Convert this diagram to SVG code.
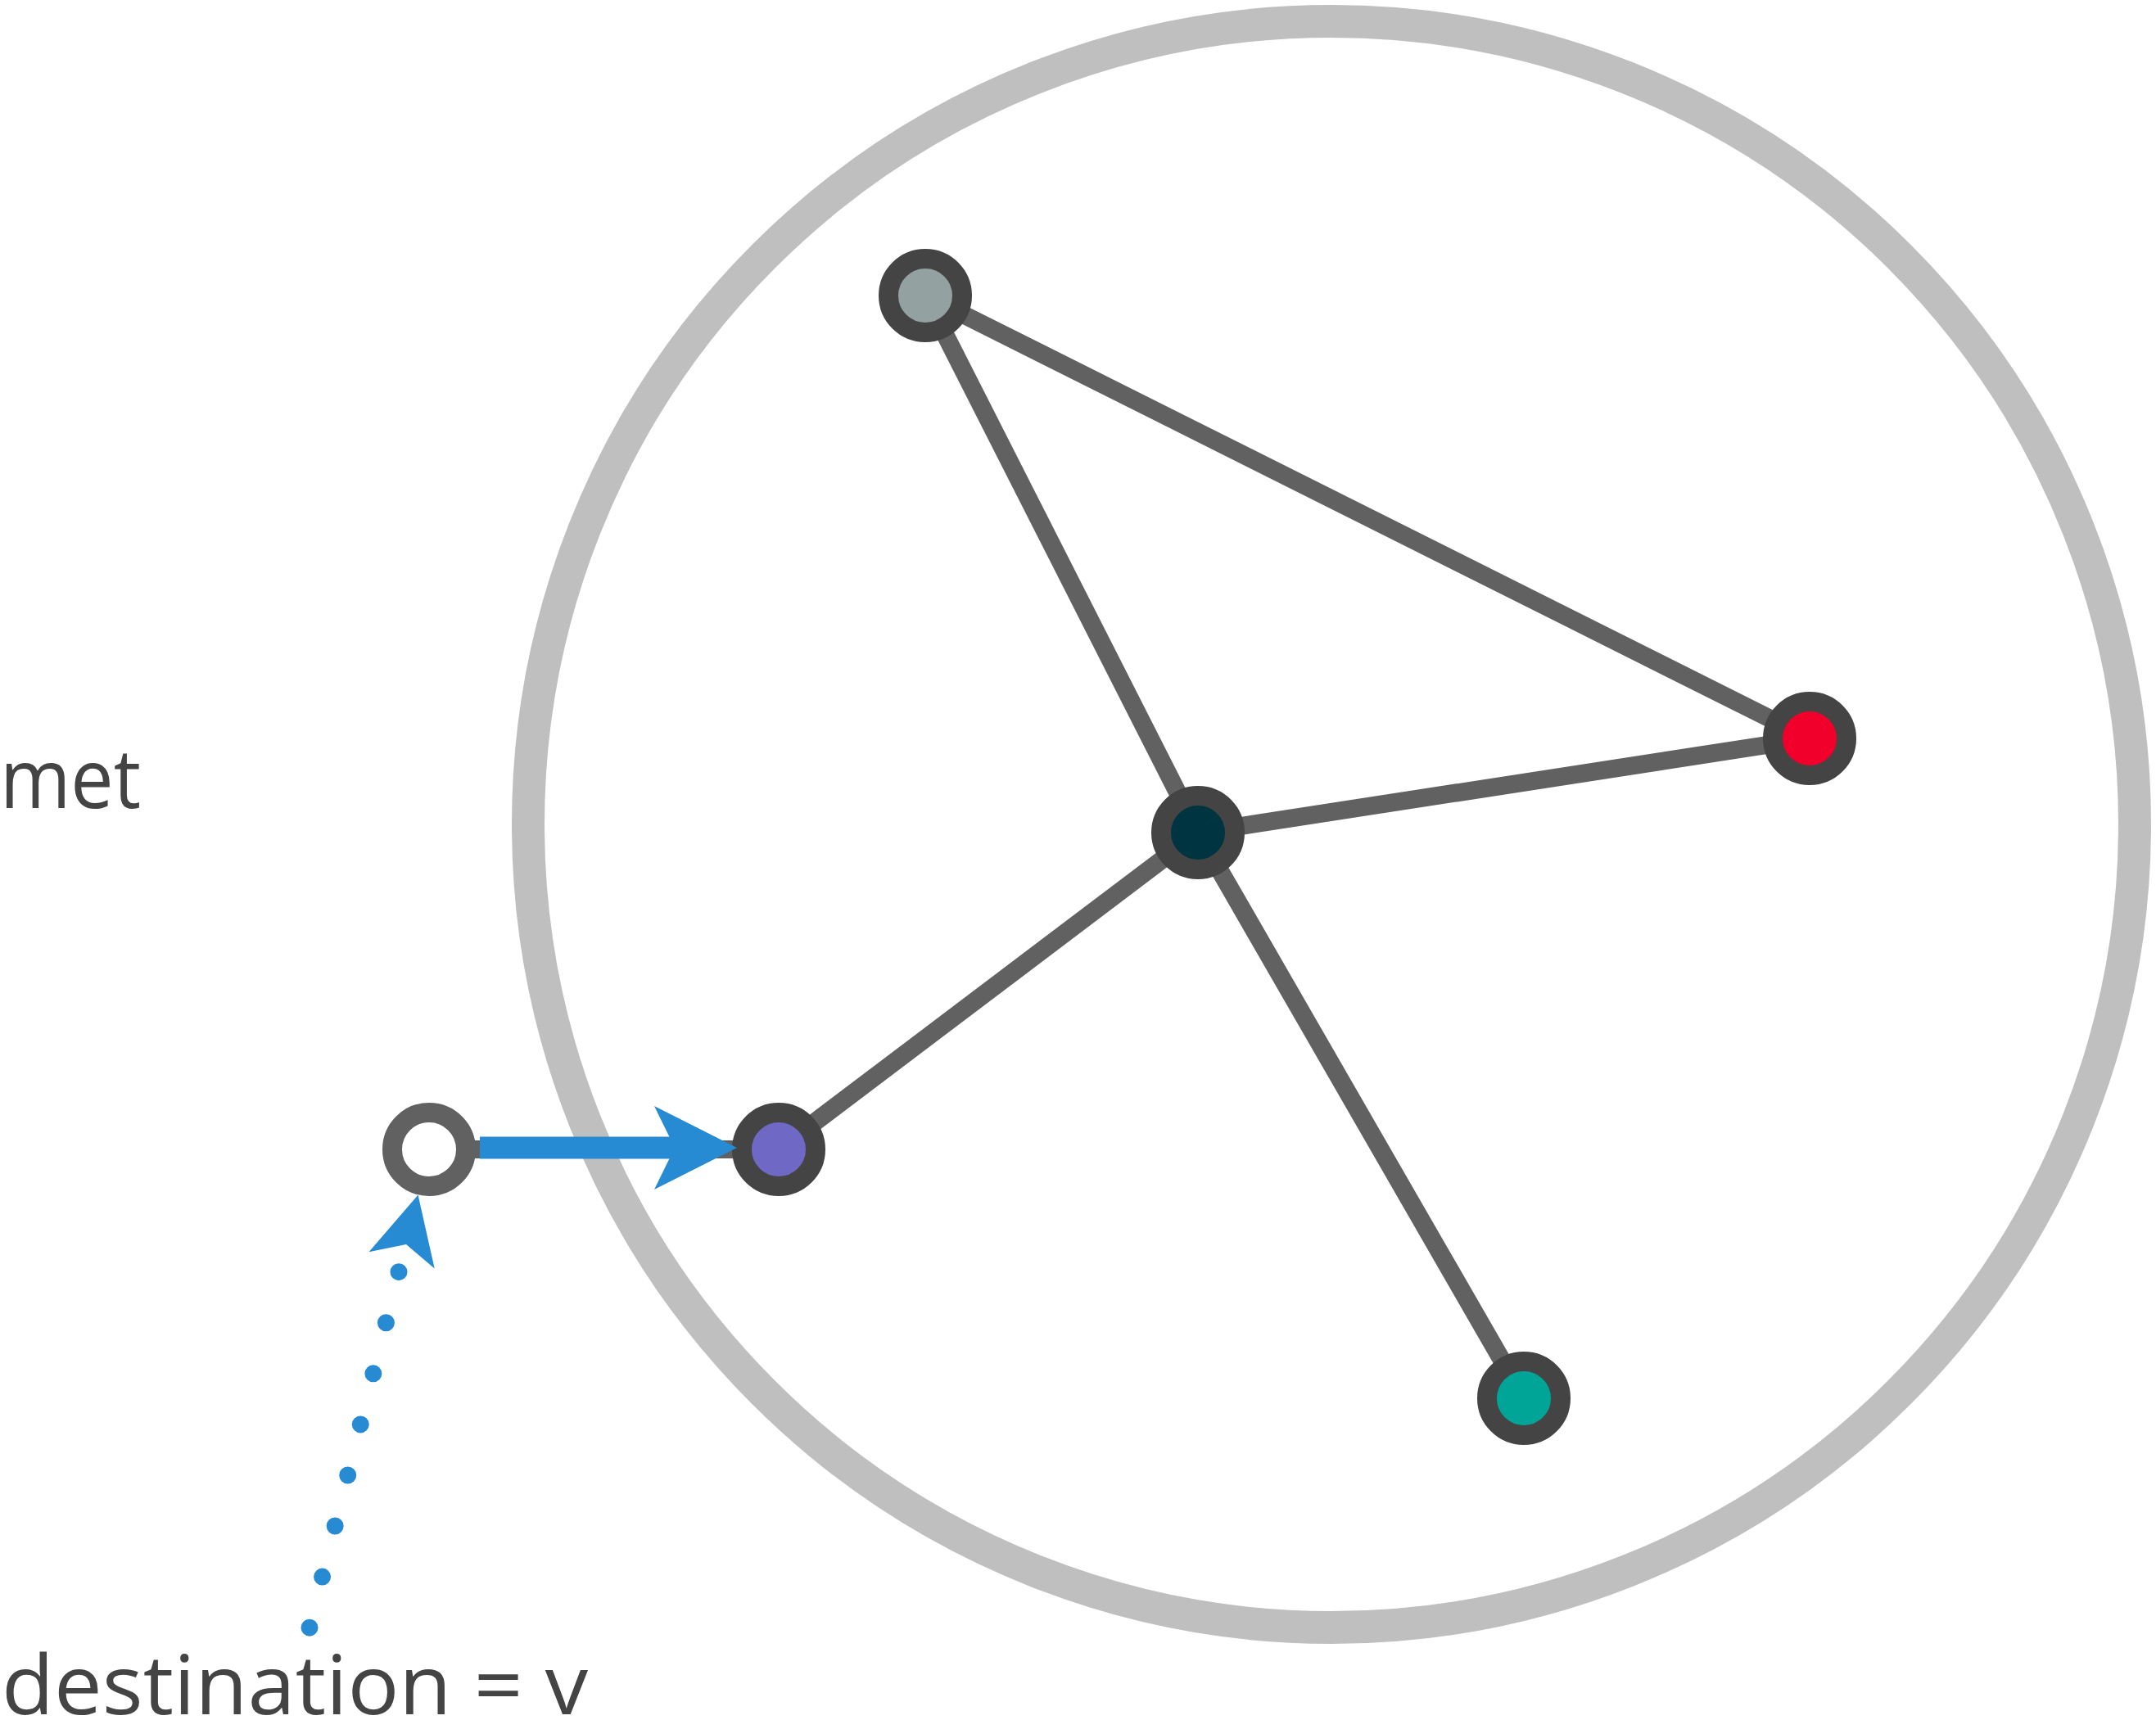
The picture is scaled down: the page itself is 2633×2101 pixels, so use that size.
<svg xmlns="http://www.w3.org/2000/svg" width="2633" height="2101" viewBox="0 0 2633 2101">
<style>
.edge{stroke:#616161;stroke-width:22;fill:none}
.node{stroke:#444444;stroke-width:24}
.lbl{font-family:"Open Sans","Noto Sans","DejaVu Sans",sans-serif;font-size:101px;fill:#444444}
.blue{fill:#268bd2}
</style>
<rect width="2633" height="2101" fill="#ffffff"/>
<g id="boundary">
<circle cx="1626" cy="1007" r="981" fill="none" stroke="#bfbfbf" stroke-width="40"/>
</g>
<g id="connectors">
<line class="edge" x1="1130" y1="361" x2="2210" y2="902"/>
<line class="edge" x1="1130" y1="361" x2="1463" y2="1017"/>
<line class="edge" x1="1463" y1="1017" x2="2210" y2="902"/>
<line class="edge" x1="1463" y1="1017" x2="951" y2="1404"/>
<line class="edge" x1="1463" y1="1017" x2="1861" y2="1708"/>
<line class="edge" x1="524" y1="1404" x2="951" y2="1404"/>
</g>
<g id="node-grey"><circle class="node" cx="1130" cy="361" r="45" fill="#93a1a1"/></g>
<g id="node-center"><circle class="node" cx="1463" cy="1017" r="45" fill="#003441"/></g>
<g id="node-red"><circle class="node" cx="2210" cy="902" r="45" fill="#f0002b"/></g>
<g id="node-teal"><circle class="node" cx="1861" cy="1708" r="45" fill="#00a598"/></g>
<g id="node-purple"><circle class="node" cx="951" cy="1404" r="45" fill="#6f68c5"/></g>
<g id="node-white"><circle cx="524" cy="1404" r="45" fill="#ffffff" stroke="#616161" stroke-width="24"/></g>
<g id="arrows">
<line x1="586" y1="1402" x2="832" y2="1402" stroke="#268bd2" stroke-width="27"/>
<polygon class="blue" points="900,1402 799,1351 824,1402 799,1453"/>
<path d="M378,1988.2 L487.5,1551.6" fill="none" stroke="#268bd2" stroke-width="21" stroke-linecap="round" stroke-dasharray="0 64"/>
<polygon class="blue" points="510.5,1459.6 450.5,1529.3 496,1520 530.7,1549.5"/>
</g>
<g id="labels">
<text class="lbl" x="0" y="987" textLength="172" lengthAdjust="spacingAndGlyphs">met</text>
<text class="lbl" x="2" y="2094" textLength="716" lengthAdjust="spacingAndGlyphs">destination = v</text>
</g>
</svg>
